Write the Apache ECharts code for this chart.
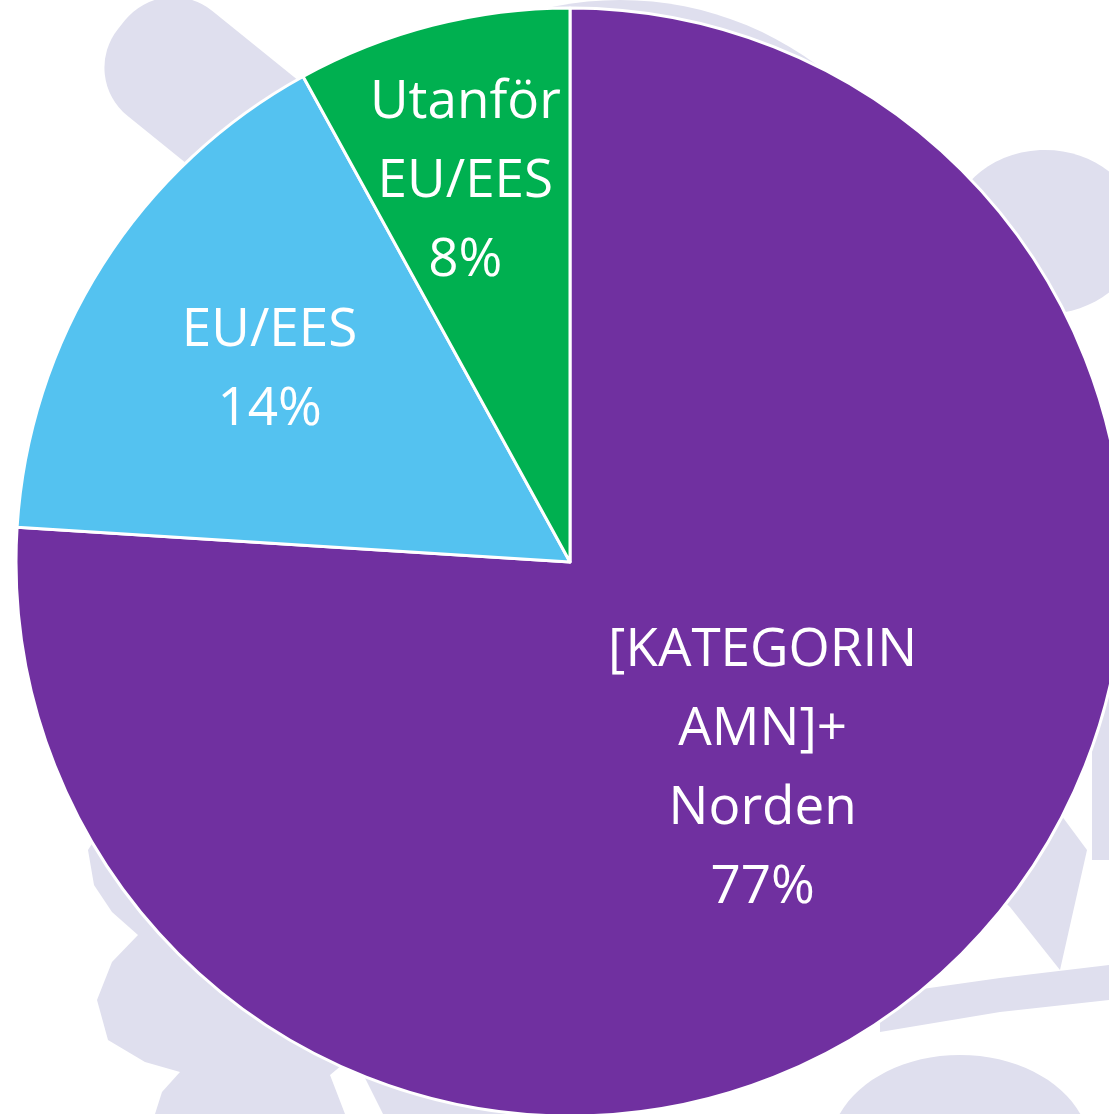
<!DOCTYPE html>
<html><head><meta charset="utf-8">
<script src="https://cdn.jsdelivr.net/npm/echarts@6/dist/echarts.min.js"></script>
<style>html,body{margin:0;padding:0;background:#fff}#c{width:1109px;height:1114px}</style>
</head><body><div id="c"></div>
<script>
// Data
const categories = ['[KATEGORIN\nAMN]+\nNorden', 'EU/EES', 'Utanför\nEU/EES'];
const values = [76, 16, 8];            // slice sizes as drawn
const percentLabels = ['77%', '14%', '8%']; // label text as printed
const colors = ['#7030A0', '#54C2F0', '#00B050'];

const chart = echarts.init(document.getElementById('c'), null, {renderer: 'canvas'});
const lav = '#DFDFEE';
const labelNudge = [[1, 3], [-64, -42], [-35, -109]];

chart.setOption({
  animation: false,
  backgroundColor: '#ffffff',
  graphic: [
    { type: 'group', x: 122, y: 24, rotation: -0.68, z: 0, children: [
      { type: 'rect', shape: { x: 0, y: -67, width: 500, height: 135, r: 62 }, style: { fill: lav } }
    ]},
    { type: 'circle', z: 0, shape: { cx: 620, cy: 330, r: 330 }, style: { fill: lav } },
    { type: 'ellipse', z: 0, shape: { cx: 1045, cy: 232, rx: 95, ry: 82 }, style: { fill: lav } },
    { type: 'rect', z: 0, shape: { x: 1092, y: 560, width: 30, height: 300 }, style: { fill: lav } },
    { type: 'polygon', z: 0, shape: { points: [[88,850],[94,885],[112,912],[138,935],[112,962],[97,1000],[108,1040],[145,1062],[180,1072],[162,1092],[155,1114],[345,1114],[330,1075],[420,1000],[300,820],[120,800]] }, style: { fill: lav } },
    { type: 'polygon', z: 0, shape: { points: [[383,1114],[362,1072],[450,1000],[560,1114]] }, style: { fill: lav } },
    { type: 'polygon', z: 0, shape: { points: [[960,860],[1010,907],[1060,970],[1087,850],[1050,800]] }, style: { fill: lav } },
    { type: 'polygon', z: 0, shape: { points: [[880,995],[1000,978],[1109,965],[1109,1000],[1000,1012],[880,1032]] }, style: { fill: lav } },
    { type: 'ellipse', z: 0, shape: { cx: 960, cy: 1150, rx: 130, ry: 95 }, style: { fill: lav } }
  ],
  series: [{
    type: 'pie',
    z: 5,
    center: [570, 562],
    radius: 554,
    startAngle: 90,
    clockwise: true,
    avoidLabelOverlap: false,
    itemStyle: { borderColor: '#ffffff', borderWidth: 3 },
    label: {
      show: true,
      position: 'inside',
      color: '#ffffff',
      fontFamily: 'Open Sans',
      fontSize: 53,
      lineHeight: 79,
      align: 'center',
      formatter: p => p.name + '\n' + percentLabels[p.dataIndex]
    },
    labelLine: { show: false },
    labelLayout: p => ({ dx: labelNudge[p.dataIndex][0], dy: labelNudge[p.dataIndex][1] }),
    emphasis: { disabled: true },
    data: categories.map((c, i) => ({ name: c, value: values[i], itemStyle: { color: colors[i] } }))
  }]
});
</script>
</body></html>
